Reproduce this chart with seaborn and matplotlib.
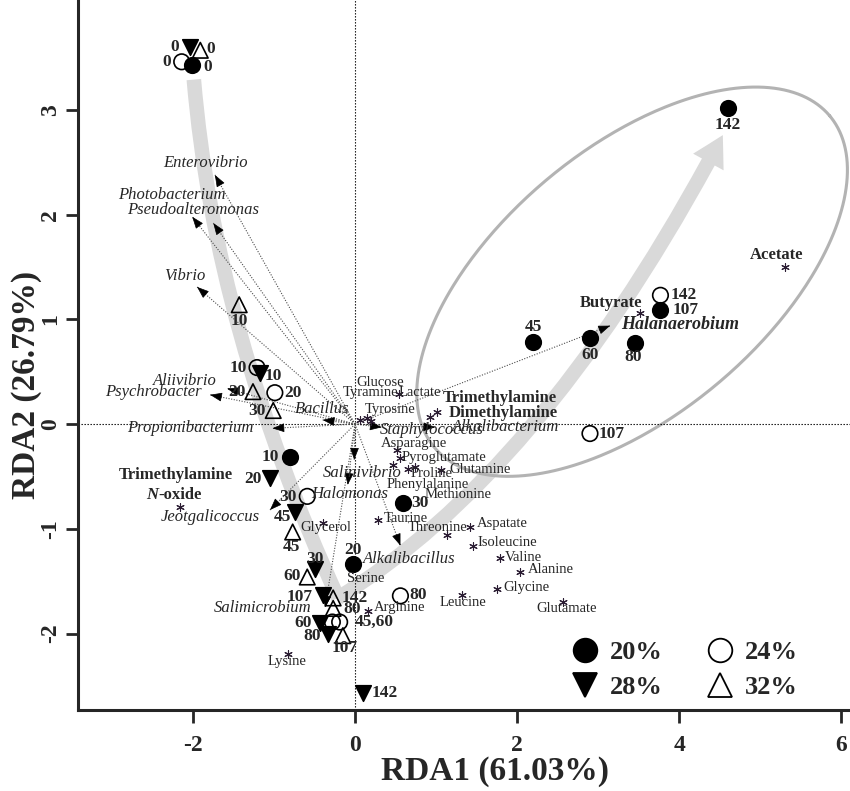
import numpy as np
import pandas as pd
import matplotlib
matplotlib.use("Agg")
import matplotlib.pyplot as plt
import seaborn as sns
from matplotlib.path import Path
from matplotlib.patches import FancyArrowPatch, PathPatch, ArrowStyle
from matplotlib.lines import Line2D

sns.set_theme(style="ticks")
plt.rcParams["font.family"] = ["Liberation Serif", "DejaVu Serif"]
plt.rcParams["axes.unicode_minus"] = False

# ---------------- sample scores (RDA1, RDA2) by salinity, in sampling-day order
days = ["0", "10", "20", "30", "45", "60", "80", "107", "142"]

rda1_20 = [-2.01, -0.80, -0.02, 0.59, 2.20, 2.90, 3.46, 3.77, 4.60]
rda2_20 = [3.43, -0.31, -1.34, -0.75, 0.78, 0.82, 0.77, 1.09, 3.02]
rda1_24 = [-2.14, -1.21, -0.99, -0.59, -0.28, -0.19, 0.56, 2.90, 3.77]
rda2_24 = [3.46, 0.54, 0.30, -0.69, -1.89, -1.89, -1.64, -0.09, 1.23]
rda1_28 = [-2.04, -1.17, -1.05, -0.49, -0.74, -0.43, -0.33, -0.40, 0.10]
rda2_28 = [3.60, 0.49, -0.51, -1.38, -0.84, -1.90, -2.00, -1.63, -2.57]
rda1_32 = [-1.91, -1.43, -1.26, -1.01, -0.77, -0.59, -0.27, -0.15, -0.27]
rda2_32 = [3.57, 1.14, 0.31, 0.13, -1.03, -1.46, -1.76, -2.02, -1.66]

# day labels shown beside each sample (two 24% samples share one label)
labels_20 = days
labels_24 = ["0", "10", "20", "30", "", "45,60", "80", "107", "142"]
labels_28 = days
labels_32 = days

# ---------------- bacterial genera (arrow tips)
taxa = ["Enterovibrio", "Photobacterium", "Pseudoalteromonas", "Vibrio",
        "Aliivibrio", "Psychrobacter", "Bacillus", "Propionibacterium",
        "Jeotgalicoccus", "Halomonas", "Salinivibrio", "Salimicrobium",
        "Alkalibacillus", "Staphylococcus", "Alkalibacterium", "Halanaerobium"]
taxa_rda1 = [-1.73, -2.01, -1.75, -1.95, -1.58, -1.79, -0.40, -1.02,
             -1.05, -0.09, -0.01, -0.37, 0.56, 0.33, 0.99, 3.15]
taxa_rda2 = [2.38, 1.98, 1.92, 1.31, 0.34, 0.28, 0.04, -0.04,
             -0.82, -0.58, -0.34, -1.75, -1.16, -0.03, -0.03, 0.94]

# ---------------- metabolites (asterisks)
metabolites = ["Glucose", "Tyramine", "Lactate", "Tyrosine", "Trimethylamine",
               "Dimethylamine", "Asparagine", "Pyroglutamate", "Glutamine",
               "Proline", "Phenylalanine", "Methionine", "Taurine", "Threonine",
               "Aspatate", "Isoleucine", "Valine", "Alanine", "Glycine",
               "Leucine", "Glutamate", "Serine", "Arginine", "Lysine",
               "Glycerol", "Trimethylamine N-oxide", "Acetate", "Butyrate"]
met_rda1 = [0.15, 0.06, 0.54, 0.20, 1.01, 0.93, 0.52, 0.56, 1.06, 0.74, 0.65,
            0.47, 0.28, 1.14, 1.42, 1.46, 1.79, 2.04, 1.75, 1.32, 2.57, -0.04,
            0.16, -0.83, -0.40, -2.16, 5.31, 3.52]
met_rda2 = [0.06, 0.04, 0.29, 0.03, 0.12, 0.07, -0.25, -0.32, -0.44, -0.41,
            -0.43, -0.39, -0.92, -1.06, -0.98, -1.16, -1.28, -1.41, -1.57,
            -1.63, -1.70, -1.38, -1.78, -2.20, -0.94, -0.79, 1.50, 1.06]
met_bold = {"Trimethylamine", "Dimethylamine", "Trimethylamine N-oxide",
            "Acetate", "Butyrate"}

# ---------------- layout helpers (label offsets in pixels: right, up)
PX = 72 / 100
sample_offsets = {
    "20%": [(15, -2), (-20, 0), (0, 14), (17, 0), (0, 15), (0, -17), (-2, -14), (25, 0), (0, -17)],
    "24%": [(-15, 0), (-19, 0), (18, 0), (-19, -1), (0, 0), (35, 0), (18, 1), (22, 0), (23, 0)],
    "28%": [(-15, 0), (13, -3), (-17, -1), (0, 10), (-13, -5), (-17, 0), (-16, -2), (-23, -2), (22, 0)],
    "32%": [(10, 1), (0, -16), (-16, 0), (-16, 0), (-1, -15), (-15, 1), (19, -1), (2, -12), (22, 0)],
}
taxa_offsets = [(-9, 12), (-20, 22), (-20, 13), (-12, 11), (-42, 8), (-57, 3),
                (0, 11), (-82, 0), (-60, -7), (2, -9), (8, -13), (-62, -1),
                (9, -13), (50, -3), (70, 0), (70, 1)]
met_offsets = [(13, 35), (11, 27), (21, 1), (19, 11), (63, 14), (73, 4), (17, 7),
               (44, 0), (39, 1), (17, -6), (20, -15), (65, -30), (28, 2), (-10, 8),
               (32, 3), (34, 3), (23, 1), (31, 2), (30, 1), (1, -8), (3, -6),
               (14, -10), (32, 3), (-1, -7), (3, -5), (0, 0), (-9, 12), (-29, 10)]

samples = pd.DataFrame({
    "salinity": np.repeat(["20%", "24%", "28%", "32%"], len(days)),
    "day": days * 4,
    "label": labels_20 + labels_24 + labels_28 + labels_32,
    "RDA1": rda1_20 + rda1_24 + rda1_28 + rda1_32,
    "RDA2": rda2_20 + rda2_24 + rda2_28 + rda2_32,
})
taxa_df = pd.DataFrame({"taxon": taxa, "RDA1": taxa_rda1, "RDA2": taxa_rda2})
met_df = pd.DataFrame({"metabolite": metabolites, "RDA1": met_rda1, "RDA2": met_rda2})

styles = {
    "20%": dict(marker="o", facecolor="black"),
    "24%": dict(marker="o", facecolor="none"),
    "28%": dict(marker="v", facecolor="black"),
    "32%": dict(marker="^", facecolor="none"),
}

# ---------------- figure
fig = plt.figure(figsize=(8.5, 7.91), dpi=100)
ax = fig.add_axes([78 / 850, 81 / 791, 772 / 850, 710 / 791])
ax.set_xlim(-3.42, 6.11)
ax.set_ylim(-2.73, 4.05)

# zero reference lines
ax.axhline(0, color="black", lw=0.8, ls=(0, (1.2, 1.5)), zorder=1.5)
ax.axvline(0, color="black", lw=0.8, ls=(0, (1.2, 1.5)), zorder=1.5)

band = "#d9d9d9"
# trajectory of the 24-32% samples down to day 142, then the 20% samples up
down = Path([(-1.99, 3.29), (-1.73, 0.90), (-0.21, -1.66)],
            [Path.MOVETO, Path.CURVE3, Path.CURVE3])
ax.add_patch(PathPatch(down, fill=False, ec=band, lw=10.5, capstyle="butt", zorder=1))
up = Path([(-0.21, -1.66), (2.35, -0.44), (4.54, 2.76)],
          [Path.MOVETO, Path.CURVE3, Path.CURVE3])
ax.add_patch(FancyArrowPatch(path=up,
                             arrowstyle=ArrowStyle.Simple(head_length=22, head_width=25, tail_width=10.5),
                             mutation_scale=1, fc=band, ec="none", lw=0, zorder=1))

# ellipse around the late 20% samples
cx, cy = ax.transData.transform((3.42, 1.36))
a_px, b_px, th = 258, 133, np.deg2rad(40)
t = np.linspace(0, 2 * np.pi, 400)
ex = cx + a_px * np.cos(t) * np.cos(th) - b_px * np.sin(t) * np.sin(th)
ey = cy + a_px * np.cos(t) * np.sin(th) + b_px * np.sin(t) * np.cos(th)
ell = ax.transData.inverted().transform(np.column_stack([ex, ey]))
ax.plot(ell[:, 0], ell[:, 1], color="#b3b3b3", lw=2.2, zorder=1)

# genus vectors: dotted shafts with small solid heads
sx = ax.transData.transform((1, 0))[0] - ax.transData.transform((0, 0))[0]
sy = ax.transData.transform((0, 1))[1] - ax.transData.transform((0, 0))[1]
for (name, x, y), (dx, dy) in zip(taxa_df.itertuples(index=False), taxa_offsets):
    ax.plot([0, x], [0, y], color="#4d4d4d", lw=0.8, ls=(0, (1, 1.4)), zorder=2)
    ux, uy = x * sx, y * sy
    n = np.hypot(ux, uy)
    ax.annotate("", xy=(x, y), xytext=(-ux / n * 3, -uy / n * 3), textcoords="offset points",
                arrowprops=dict(arrowstyle="-|>,head_length=0.75,head_width=0.28",
                                mutation_scale=10, color="black", lw=0.5,
                                shrinkA=0, shrinkB=0), zorder=3)
    bold = name == "Halanaerobium"
    ax.annotate(name, (x, y), xytext=(dx * PX, dy * PX), textcoords="offset points",
                ha="center", va="center", fontstyle="italic",
                fontweight="bold" if bold else "normal",
                fontsize=13 if bold else 12, zorder=5)

# metabolites
sns.scatterplot(data=met_df, x="RDA1", y="RDA2", marker=(6, 2, 0), s=30,
                color="#2b1d33", linewidth=0.8, ax=ax, legend=False, zorder=3)
for (name, x, y), (dx, dy) in zip(met_df.itertuples(index=False), met_offsets):
    if name == "Trimethylamine N-oxide":
        ax.annotate("Trimethylamine", (x, y), xytext=(-4 * PX, 32 * PX), textcoords="offset points",
                    ha="center", va="center", fontweight="bold", fontsize=12, zorder=5)
        ax.annotate("N", (x, y), xytext=(-22 * PX, 12 * PX), textcoords="offset points",
                    ha="right", va="center", fontweight="bold", fontstyle="italic", fontsize=12, zorder=5)
        ax.annotate("-oxide", (x, y), xytext=(-22 * PX, 12 * PX), textcoords="offset points",
                    ha="left", va="center", fontweight="bold", fontsize=12, zorder=5)
        continue
    bold = name in met_bold
    ax.annotate(name, (x, y), xytext=(dx * PX, dy * PX), textcoords="offset points",
                ha="center", va="center", fontweight="bold" if bold else "normal",
                fontsize=12 if bold else 10.5, zorder=5)

# samples
for sal, sty in styles.items():
    sub = samples[samples["salinity"] == sal]
    sns.scatterplot(data=sub, x="RDA1", y="RDA2", marker=sty["marker"], s=125,
                    facecolor=sty["facecolor"], edgecolor="black", linewidth=1.2,
                    ax=ax, legend=False, zorder=4)
    for (lab, x, y), (dx, dy) in zip(sub[["label", "RDA1", "RDA2"]].itertuples(index=False),
                                     sample_offsets[sal]):
        if lab:
            ax.annotate(lab, (x, y), xytext=(dx * PX, dy * PX), textcoords="offset points",
                        ha="center", va="center", fontweight="bold", fontsize=12.5, zorder=5)

# legend (column-wise order so rows read 20%/24% and 28%/32%)
handles = []
order = ["20%", "28%", "24%", "32%"]
for sal in order:
    sty = styles[sal]
    handles.append(Line2D([], [], ls="", marker=sty["marker"], ms=17,
                          mfc=sty["facecolor"], mec="black", mew=1.3))
ax.legend(handles, order, ncol=2, frameon=False, loc="center",
          bbox_to_anchor=((684 - 78) / 772, (710 - 670) / 710),
          prop={"weight": "bold", "size": 19}, handlelength=1.1, handletextpad=0.4,
          columnspacing=1.6, labelspacing=0.45, borderpad=0)

# axes
ax.set_xticks([-2, 0, 2, 4, 6])
ax.set_yticks([-2, -1, 0, 1, 2, 3])
ax.tick_params(direction="out", length=9, width=2, labelsize=17, pad=9)
ax.tick_params(axis="y", labelrotation=90, pad=3)
for lab in ax.get_xticklabels() + ax.get_yticklabels():
    lab.set_fontweight("bold")
for lab in ax.get_yticklabels():
    lab.set_va("center")
for side in ["top", "right"]:
    ax.spines[side].set_visible(False)
for side in ["left", "bottom"]:
    ax.spines[side].set_linewidth(2.2)
ax.set_xlabel("RDA1 (61.03%)", fontsize=24, fontweight="bold", va="center")
ax.set_ylabel("RDA2 (26.79%)", fontsize=24, fontweight="bold", va="center")
ax.xaxis.set_label_coords(0.54, -0.087)
ax.yaxis.set_label_coords(-0.067, 0.458)

fig.savefig("out.png", dpi=100, facecolor="white")
